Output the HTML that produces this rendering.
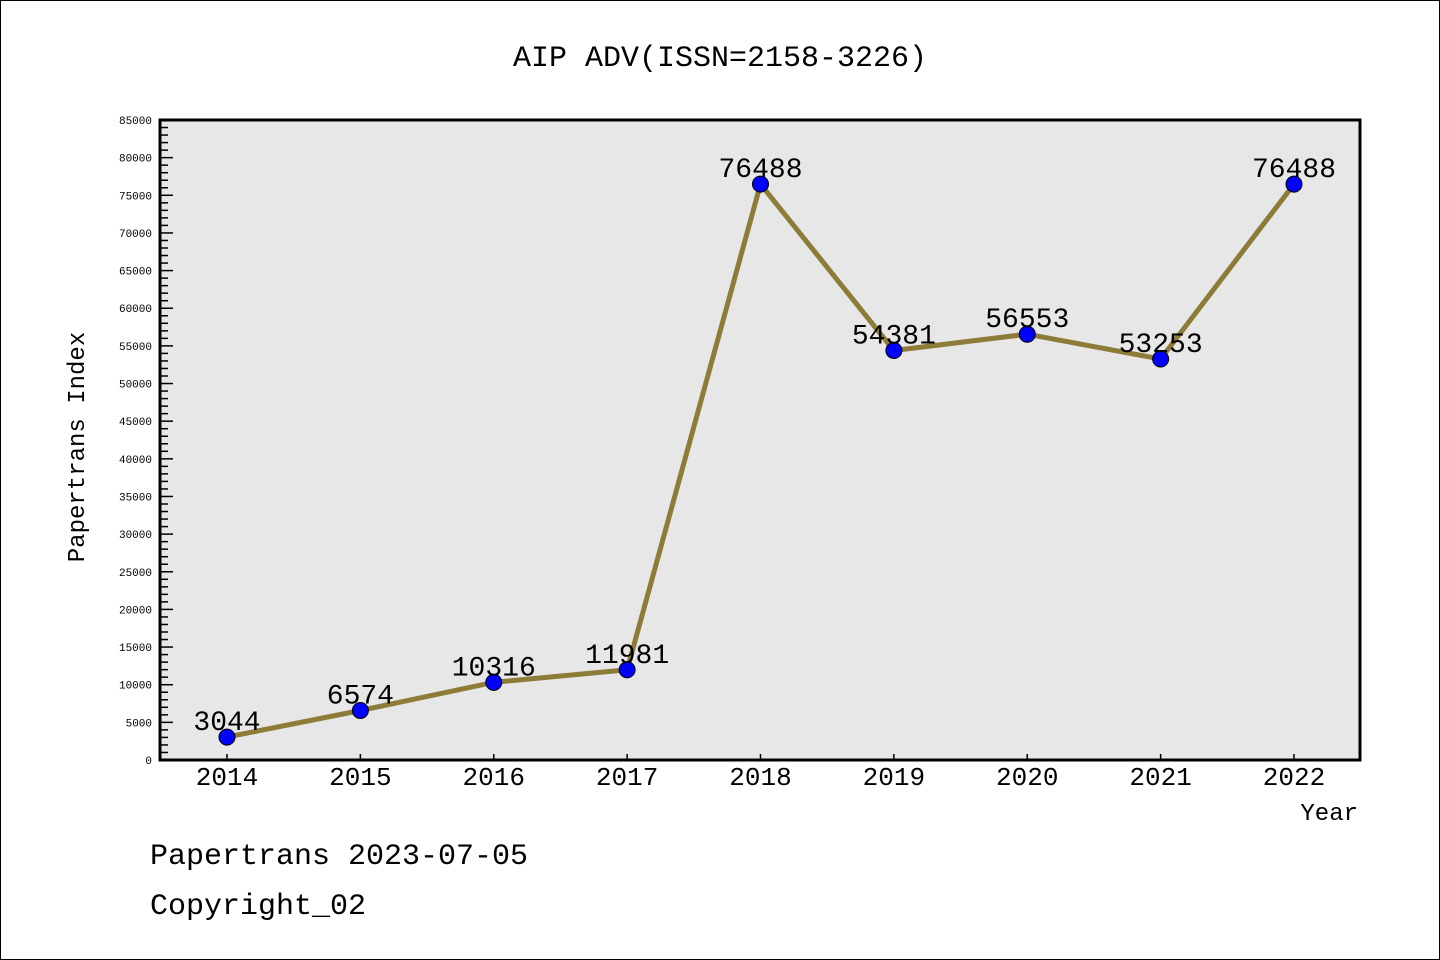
<!DOCTYPE html>
<html><head><meta charset="utf-8"><style>
html,body{margin:0;padding:0;background:#fff}
svg{display:block}
text{font-family:"Liberation Mono","DejaVu Sans Mono",monospace;fill:#000}
</style></head><body>
<svg id="chart" width="1440" height="960" viewBox="0 0 1440 960">
<rect x="0.5" y="0.5" width="1439" height="959" fill="#fff" stroke="#000"/>
<text x="720" y="66" text-anchor="middle" font-size="30">AIP ADV(ISSN=2158-3226)</text>
<rect x="160" y="120" width="1200" height="640" fill="#e7e7e7"/>
<g id="yaxis"></g>
<g id="xaxis"></g>
<g id="series"></g>
<rect x="160" y="120" width="1200" height="640" fill="none" stroke="#000" stroke-width="3"/>
<text transform="translate(84,447) rotate(-90)" text-anchor="middle" font-size="24">Papertrans Index</text>
<text x="1358" y="820" text-anchor="end" font-size="24">Year</text>
<text x="150" y="864" font-size="30">Papertrans 2023-07-05</text>
<text x="150" y="914" font-size="30">Copyright_02</text>
</svg>
<script>
const years = ["2014","2015","2016","2017","2018","2019","2020","2021","2022"];
const values = [3044,6574,10316,11981,76488,54381,56553,53253,76488];
const yTickLabels = ["0","5000","10000","15000","20000","25000","30000","35000","40000","45000","50000","55000","60000","65000","70000","75000","80000","85000"];
const yMax = 85000;
const NS="http://www.w3.org/2000/svg";
const L=160,R=1360,T=120,B=760;
const xS=i=>227+i*(1294-227)/(years.length-1);
const yS=v=>B-(v/yMax)*(B-T);
function mk(tag,attrs,parent){const e=document.createElementNS(NS,tag);for(const k in attrs)e.setAttribute(k,attrs[k]);parent.appendChild(e);return e;}
const ya=document.getElementById('yaxis'),xa=document.getElementById('xaxis'),sg=document.getElementById('series');
for(let v=0;v<=yMax;v+=1000){
  const major=v%5000===0;const y=yS(v);
  const t=mk('line',{x1:L,x2:L+(major?13:8),y1:y,y2:y,stroke:'#000','stroke-width':1.5},ya);
  
  
}
yTickLabels.forEach(s=>{
  const tx=mk('text',{x:152,y:yS(+s)+4,'text-anchor':'end','font-size':11},ya);
  tx.textContent=s;
  
  
});
years.forEach((yr,i)=>{
  const t=mk('line',{x1:xS(i),x2:xS(i),y1:B,y2:B-6,stroke:'#000','stroke-width':1.5},xa);
  
  
  const tx=mk('text',{x:xS(i),y:785,'text-anchor':'middle','font-size':26,'font-family':'Liberation Sans, sans-serif'},xa);
  tx.textContent=yr;
  
  
});
const pl=mk('polyline',{points:values.map((v,i)=>xS(i)+','+yS(v)).join(' '),fill:'none',stroke:'#8d7b38','stroke-width':5,'stroke-linejoin':'round'},sg);


values.forEach((v,i)=>{
  const c=mk('circle',{cx:xS(i),cy:yS(v),r:8,fill:'#0000ff',stroke:'#000','stroke-width':1},sg);
  
  
  const tx=mk('text',{x:xS(i),y:yS(v)-7,'text-anchor':'middle','font-size':28,'font-family':'Liberation Sans, sans-serif'},sg);
  tx.textContent=String(v);
  
  
});
</script>
</body></html>
